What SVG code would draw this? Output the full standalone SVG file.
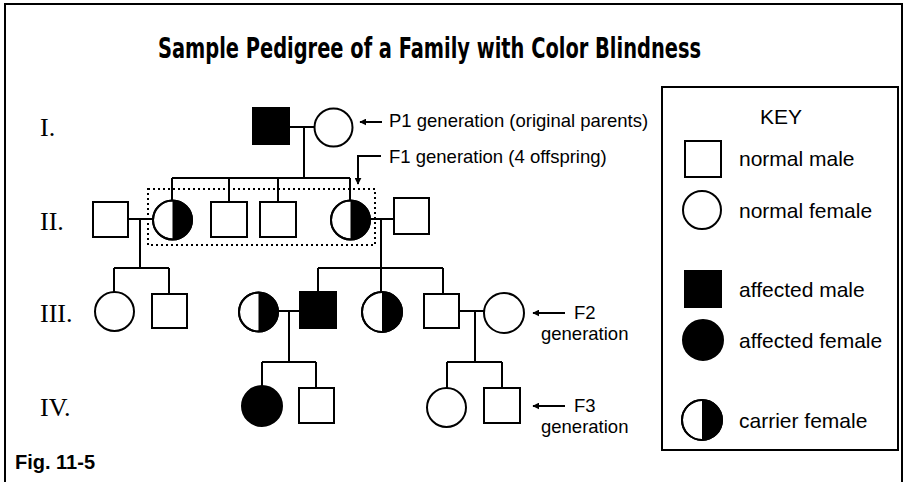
<svg xmlns="http://www.w3.org/2000/svg" width="904" height="482" viewBox="0 0 904 482">
  <style>
    .line { stroke: #000; stroke-width: 2; fill: none; }
    .male { fill: #fff; stroke: #000; stroke-width: 2; }
    .female { fill: #fff; stroke: #000; stroke-width: 2; }
    .affected { fill: #000; stroke: #000; stroke-width: 2; }
    .half { fill: #000; stroke: none; }
    .gen { font-family: "Liberation Serif", "Times New Roman", serif; font-size: 26px; fill: #000; }
    .note { font-family: "Liberation Sans", Arial, sans-serif; font-size: 18.5px; fill: #000; }
    .key { font-family: "Liberation Sans", Arial, sans-serif; font-size: 21px; fill: #000; }
    .title { font-family: "DejaVu Sans Condensed", "Liberation Sans Narrow", sans-serif; font-weight: bold; font-size: 29px; fill: #000; }
  </style>
  <defs>
    <marker id="arrow" viewBox="0 0 10 10" refX="9" refY="5" markerWidth="7" markerHeight="7" markerUnits="userSpaceOnUse" orient="auto">
      <path d="M0,0 L10,5 L0,10 Z" fill="#000"/>
    </marker>
  </defs>

  <rect width="904" height="482" fill="#fff"/>
  <!-- page frame (open at the bottom) -->
  <path class="line" d="M5,490 L5,4 L902,4 L902,490"/>

  <text class="title" x="158" y="58" textLength="543" lengthAdjust="spacingAndGlyphs">Sample Pedigree of a Family with Color Blindness</text>

  <!-- generation labels -->
  <g id="generation-labels">
    <text class="gen" x="40" y="136">I.</text>
    <text class="gen" x="40" y="230">II.</text>
    <text class="gen" x="40" y="322">III.</text>
    <text class="gen" x="40" y="416">IV.</text>
  </g>

  <!-- connectors -->
  <g id="connectors">
    <!-- generation I couple -->
    <path class="line" d="M289,127 L314,127 M304,127 L304,178 M172,178 L350,178 M172,178 L172,200 M229,178 L229,202 M278,178 L278,202 M350,178 L350,200"/>
    <!-- left F1 daughter and spouse -->
    <path class="line" d="M128,219 L153,219 M140,219 L140,268 M114,268 L169,268 M114,268 L114,292 M169,268 L169,294"/>
    <!-- right F1 daughter and spouse -->
    <path class="line" d="M370,219 L394,219 M381,219 L381,268 M318,268 L443,268 M318,268 L318,292 M381,268 L381,292 M443,268 L443,294"/>
    <!-- generation III couples -->
    <path class="line" d="M278,311 L300,311 M289,311 L289,362 M262,362 L316,362 M262,362 L262,386 M316,362 L316,388"/>
    <path class="line" d="M459,311 L484,311 M475,311 L475,362 M447,362 L502,362 M447,362 L447,388 M502,362 L502,388"/>
    <!-- F1 group outline -->
    <rect x="148" y="189" width="227" height="56" fill="none" stroke="#000" stroke-width="2" stroke-dasharray="2 3"/>
    <!-- callout arrows -->
    <line class="line" x1="382" y1="122" x2="360" y2="122" stroke-width="1.5" marker-end="url(#arrow)"/>
    <polyline class="line" points="381,156 358,156 358,184" stroke-width="1.5" marker-end="url(#arrow)"/>
    <line class="line" x1="565" y1="313" x2="533" y2="313" stroke-width="1.5" marker-end="url(#arrow)"/>
    <line class="line" x1="565" y1="406" x2="533" y2="406" stroke-width="1.5" marker-end="url(#arrow)"/>
  </g>

  <!-- callout labels -->
  <g id="callouts">
    <text class="note" x="389" y="127">P1 generation (original parents)</text>
    <text class="note" x="389" y="163">F1 generation (4 offspring)</text>
    <text class="note" x="574" y="319">F2</text>
    <text class="note" x="541" y="340">generation</text>
    <text class="note" x="574" y="412">F3</text>
    <text class="note" x="541" y="433">generation</text>
  </g>

  <!-- generation I -->
  <g id="I-1"><rect class="affected" x="253" y="108" width="36" height="36"/></g>
  <g id="I-2"><circle class="female" cx="333.5" cy="127.5" r="19"/></g>

  <!-- generation II -->
  <g id="II-1"><rect class="male" x="93" y="202" width="35" height="35"/></g>
  <g id="II-2">
    <circle class="female" cx="172.5" cy="220" r="19.5"/>
    <path class="half" d="M172.5,200.5 A19.5,19.5 0 0 1 172.5,239.5 Z"/>
    <circle cx="172.5" cy="220" r="19.5" fill="none" stroke="#000" stroke-width="2"/>
  </g>
  <g id="II-3"><rect class="male" x="211" y="202" width="36" height="35"/></g>
  <g id="II-4"><rect class="male" x="260" y="202" width="36" height="35"/></g>
  <g id="II-5">
    <circle class="female" cx="350.5" cy="220" r="19.5"/>
    <path class="half" d="M350.5,200.5 A19.5,19.5 0 0 1 350.5,239.5 Z"/>
    <circle cx="350.5" cy="220" r="19.5" fill="none" stroke="#000" stroke-width="2"/>
  </g>
  <g id="II-6"><rect class="male" x="394" y="198" width="35" height="36"/></g>

  <!-- generation III -->
  <g id="III-1"><circle class="female" cx="114.5" cy="311.5" r="19.5"/></g>
  <g id="III-2"><rect class="male" x="152" y="294" width="35" height="34"/></g>
  <g id="III-3">
    <circle class="female" cx="258.5" cy="312" r="19.5"/>
    <path class="half" d="M258.5,292.5 A19.5,19.5 0 0 1 258.5,331.5 Z"/>
    <circle cx="258.5" cy="312" r="19.5" fill="none" stroke="#000" stroke-width="2"/>
  </g>
  <g id="III-4"><rect class="affected" x="300" y="292" width="36" height="36"/></g>
  <g id="III-5">
    <circle class="female" cx="382" cy="312" r="20"/>
    <path class="half" d="M382,292 A20,20 0 0 1 382,332 Z"/>
    <circle cx="382" cy="312" r="20" fill="none" stroke="#000" stroke-width="2"/>
  </g>
  <g id="III-6"><rect class="male" x="424" y="294" width="35" height="34"/></g>
  <g id="III-7"><circle class="female" cx="504" cy="313" r="20"/></g>

  <!-- generation IV -->
  <g id="IV-1"><circle class="affected" cx="262" cy="406" r="20"/></g>
  <g id="IV-2"><rect class="male" x="299" y="388" width="35" height="35"/></g>
  <g id="IV-3"><circle class="female" cx="446.5" cy="407.5" r="19.5"/></g>
  <g id="IV-4"><rect class="male" x="484" y="388" width="36" height="35"/></g>

  <!-- key -->
  <g id="key">
    <rect x="662" y="87" width="236" height="363" fill="none" stroke="#000" stroke-width="2"/>
    <text class="key" x="781" y="124" text-anchor="middle">KEY</text>
    <rect class="male" x="685" y="141" width="36" height="36"/>
    <text class="key" x="739" y="166">normal male</text>
    <circle class="female" cx="702" cy="210" r="19"/>
    <text class="key" x="739" y="218">normal female</text>
    <rect class="affected" x="685" y="271" width="36" height="36"/>
    <text class="key" x="739" y="297">affected male</text>
    <circle class="affected" cx="703" cy="340" r="20"/>
    <text class="key" x="739" y="348">affected female</text>
    <circle class="female" cx="702" cy="420" r="20"/>
    <path class="half" d="M702,400 A20,20 0 0 1 702,440 Z"/>
    <circle cx="702" cy="420" r="20" fill="none" stroke="#000" stroke-width="2"/>
    <text class="key" x="739" y="428">carrier female</text>
  </g>

  <text x="15" y="469" font-family="Liberation Sans, Arial, sans-serif" font-weight="bold" font-size="20">Fig. 11-5</text>
</svg>
